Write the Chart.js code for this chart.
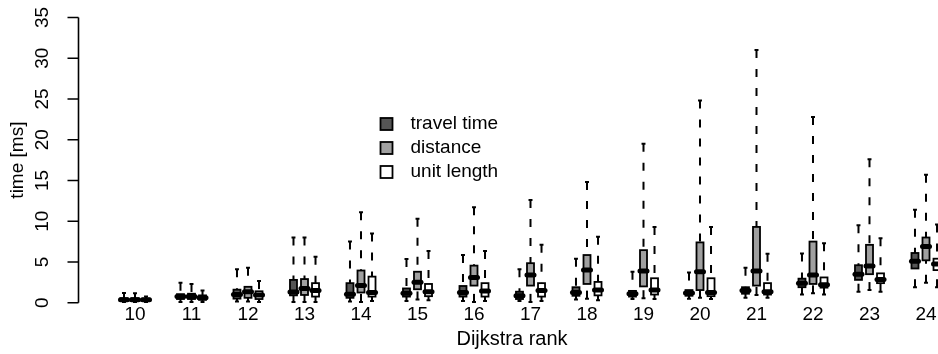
<!DOCTYPE html>
<html>
<head>
<meta charset="utf-8">
<script src="https://cdn.jsdelivr.net/npm/chart.js@4.4.1/dist/chart.umd.min.js"></script>
<style>
  html, body { margin: 0; padding: 0; background: #fff; overflow: hidden; }
  #wrap { position: relative; width: 938px; height: 354px; }
</style>
</head>
<body>
<div id="wrap"><canvas id="c"></canvas></div>
<script>
// Dijkstra rank groups along the x axis
const ranks = ['10','11','12','13','14','15','16','17','18','19','20','21','22','23','24'];
const seriesNames = ['travel time', 'distance', 'unit length'];
const seriesFill = ['#555555', '#a0a0a0', '#ffffff'];
const yTicks = [0, 5, 10, 15, 20, 25, 30, 35];

// travel time metric: whisker low, Q1, median, Q3, whisker high [ms]
const travelLo  = [0.10, 0.10, 0.15, 0.10, 0.15, 0.20, 0.20, 0.20, 0.40, 0.45, 0.50, 0.60, 1.00, 1.35, 1.90];
const travelQ1  = [0.20, 0.45, 0.50, 0.90, 0.60, 0.75, 0.75, 0.45, 0.85, 0.75, 0.85, 1.10, 1.90, 2.80, 4.20];
const travelMed = [0.35, 0.75, 1.00, 1.30, 1.05, 1.15, 1.25, 0.85, 1.25, 1.10, 1.20, 1.50, 2.40, 3.50, 5.10];
const travelQ3  = [0.55, 1.05, 1.60, 2.80, 2.40, 1.75, 2.05, 1.35, 1.90, 1.45, 1.55, 1.90, 2.95, 4.60, 6.10];
const travelHi  = [1.20, 2.45, 4.10, 8.00, 7.50, 5.35, 5.85, 4.10, 5.40, 3.80, 3.70, 4.30, 6.05, 9.50, 11.40];

// distance metric
const distLo  = [0.10, 0.10, 0.15, 0.10, 0.10, 0.40, 0.10, 0.10, 0.50, 0.55, 0.60, 0.95, 1.15, 1.55, 2.45];
const distQ1  = [0.20, 0.45, 0.60, 0.95, 1.25, 1.65, 2.10, 2.10, 2.30, 2.00, 1.55, 2.10, 2.30, 3.50, 5.20];
const distMed = [0.35, 0.75, 1.35, 1.75, 2.10, 2.50, 3.10, 3.40, 4.00, 3.90, 3.80, 3.90, 3.40, 4.50, 6.90];
const distQ3  = [0.55, 1.10, 1.95, 2.90, 3.95, 3.80, 4.55, 4.85, 5.85, 6.45, 7.40, 9.30, 7.50, 7.10, 8.00];
const distHi  = [1.15, 2.30, 4.30, 8.00, 11.10, 10.30, 11.70, 12.60, 14.80, 19.50, 24.80, 31.00, 22.80, 17.60, 15.70];

// unit length metric
const unitLo  = [0.10, 0.10, 0.10, 0.10, 0.20, 0.30, 0.20, 0.20, 0.30, 0.45, 0.45, 0.60, 1.00, 1.35, 1.90];
const unitQ1  = [0.20, 0.35, 0.45, 0.75, 0.75, 0.80, 0.75, 0.75, 0.90, 1.00, 0.80, 1.00, 1.85, 2.40, 4.00];
const unitMed = [0.35, 0.60, 0.95, 1.50, 1.25, 1.35, 1.45, 1.50, 1.55, 1.55, 1.25, 1.35, 2.20, 2.85, 4.75];
const unitQ3  = [0.50, 0.90, 1.40, 2.40, 3.20, 2.30, 2.40, 2.40, 2.55, 3.00, 3.00, 2.40, 3.10, 3.60, 5.40];
const unitHi  = [0.75, 1.50, 2.65, 5.65, 8.50, 6.35, 6.35, 7.10, 8.10, 9.30, 9.30, 6.00, 7.30, 7.90, 9.60];

const stats = [
  [travelLo, travelQ1, travelMed, travelQ3, travelHi],
  [distLo, distQ1, distMed, distQ3, distHi],
  [unitLo, unitQ1, unitMed, unitQ3, unitHi]
];

const FONT = '"Liberation Sans", Arial, Helvetica, sans-serif';
const boxOffset = 0.195;   // offset of side boxes from group centre, in group units
const boxHalf = 0.062;     // half box width, in group units
const capHalf = 0.035;     // half whisker staple width

const boxplotPlugin = {
  id: 'boxplots',
  afterDraw(chart) {
    const ctx = chart.ctx;
    const xs = chart.scales.x, ys = chart.scales.y;
    const area = chart.chartArea;
    ctx.save();

    // boxes
    stats.forEach((s, k) => {
      const [lo, q1, med, q3, hi] = s;
      ranks.forEach((r, i) => {
        const xv = i + (k - 1) * boxOffset;
        const cx = xs.getPixelForValue(xv);
        const hw = xs.getPixelForValue(xv + boxHalf) - cx;
        const cw = xs.getPixelForValue(xv + capHalf) - cx;
        const yLo = ys.getPixelForValue(lo[i]);
        const yQ1 = ys.getPixelForValue(q1[i]);
        const yMed = ys.getPixelForValue(med[i]);
        const yQ3 = ys.getPixelForValue(q3[i]);
        const yHi = ys.getPixelForValue(hi[i]);

        // whiskers, dashed from the extreme towards the box
        ctx.strokeStyle = '#000';
        ctx.lineWidth = 2;
        ctx.lineCap = 'butt';
        ctx.setLineDash([8, 11]);
        ctx.beginPath();
        ctx.moveTo(cx, yHi); ctx.lineTo(cx, yQ3);
        ctx.stroke();
        ctx.beginPath();
        ctx.moveTo(cx, yLo); ctx.lineTo(cx, yQ1);
        ctx.stroke();
        ctx.setLineDash([]);

        // staples
        ctx.lineWidth = 2;
        ctx.beginPath();
        ctx.moveTo(cx - cw, yHi); ctx.lineTo(cx + cw, yHi);
        ctx.moveTo(cx - cw, yLo); ctx.lineTo(cx + cw, yLo);
        ctx.stroke();

        // box
        ctx.fillStyle = seriesFill[k];
        ctx.fillRect(cx - hw, yQ3, 2 * hw, yQ1 - yQ3);
        ctx.lineWidth = 1.8;
        ctx.strokeRect(cx - hw, yQ3, 2 * hw, yQ1 - yQ3);

        // median
        ctx.lineWidth = 5;
        ctx.lineCap = 'round';
        ctx.beginPath();
        ctx.moveTo(cx - hw, yMed); ctx.lineTo(cx + hw, yMed);
        ctx.stroke();
        ctx.lineCap = 'butt';
      });
    });

    // y axis with outward ticks and rotated labels
    const axX = area.left;
    ctx.strokeStyle = '#000';
    ctx.lineWidth = 1.6;
    ctx.beginPath();
    ctx.moveTo(axX, ys.getPixelForValue(yTicks[0]));
    ctx.lineTo(axX, ys.getPixelForValue(yTicks[yTicks.length - 1]));
    yTicks.forEach(v => {
      const py = ys.getPixelForValue(v);
      ctx.moveTo(axX, py); ctx.lineTo(axX - 11, py);
    });
    ctx.stroke();

    ctx.fillStyle = '#000';
    ctx.font = '19px ' + FONT;
    ctx.textAlign = 'center';
    ctx.textBaseline = 'middle';
    yTicks.forEach(v => {
      const py = ys.getPixelForValue(v);
      ctx.save();
      ctx.translate(axX - 36, py);
      ctx.rotate(-Math.PI / 2);
      ctx.fillText(String(v), 0, 0);
      ctx.restore();
    });

    // y title
    ctx.save();
    ctx.translate(18, (area.top + area.bottom) / 2);
    ctx.rotate(-Math.PI / 2);
    ctx.fillText('time [ms]', 0, 0);
    ctx.restore();

    // x labels
    ranks.forEach((r, i) => {
      ctx.fillText(r, xs.getPixelForValue(i), area.bottom + 12.5);
    });
    ctx.font = '20px ' + FONT;
    ctx.fillText('Dijkstra rank', 512, area.bottom + 36.5);

    // legend
    ctx.font = '19px ' + FONT;
    const lgX = 380.5, lgY = [124, 148, 172];
    seriesNames.forEach((n, k) => {
      ctx.fillStyle = seriesFill[k];
      ctx.fillRect(lgX, lgY[k] - 6, 12, 12);
      ctx.lineWidth = 1.8;
      ctx.strokeStyle = '#000';
      ctx.strokeRect(lgX, lgY[k] - 6, 12, 12);
      ctx.fillStyle = '#000';
      ctx.textAlign = 'left';
      ctx.fillText(n, 410.5, lgY[k]);
    });

    ctx.restore();
  }
};

new Chart(document.getElementById('c'), {
  type: 'scatter',
  data: {
    datasets: seriesNames.map((n, k) => ({
      label: n,
      data: ranks.map((r, i) => ({ x: i + (k - 1) * boxOffset, y: stats[k][2][i] })),
      pointRadius: 0,
      showLine: false
    }))
  },
  options: {
    responsive: true,
    maintainAspectRatio: false,
    animation: false,
    events: [],
    layout: { padding: { left: 78.5, right: 0, top: 17.5, bottom: 51.3 } },
    plugins: { legend: { display: false }, tooltip: { enabled: false } },
    scales: {
      x: { type: 'linear', display: false, min: -1, max: 14.2124 },
      y: { type: 'linear', display: false, min: 0, max: 35 }
    }
  },
  plugins: [boxplotPlugin]
});
</script>
</body>
</html>
